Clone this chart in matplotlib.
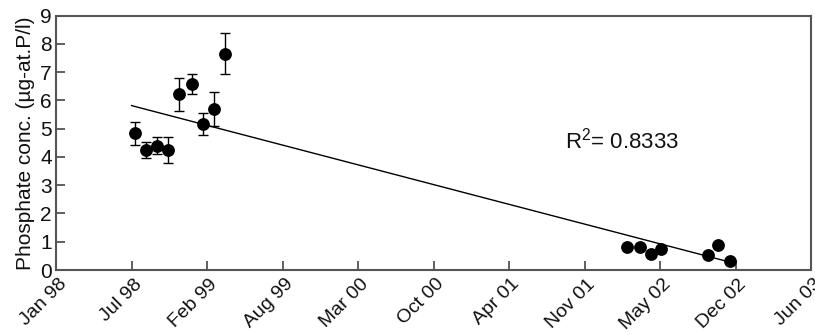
import datetime as dt
import numpy as np
import matplotlib
matplotlib.use("Agg")
import matplotlib.pyplot as plt
import matplotlib.dates as mdates
import matplotlib.transforms as mtransforms

plt.rcParams["font.family"] = ["Liberation Sans", "DejaVu Sans"]
plt.rcParams["mathtext.default"] = "regular"

# sampling dates and phosphate concentrations (mean, std)
dates = ["1998-07-29", "1998-08-28", "1998-09-26", "1998-10-26", "1998-11-25",
         "1998-12-28", "1999-01-27", "1999-02-25", "1999-03-27",
         "2002-02-26", "2002-04-02", "2002-05-02", "2002-05-28",
         "2002-09-30", "2002-10-27", "2002-11-29"]
conc = [4.83, 4.25, 4.4, 4.25, 6.22, 6.58, 5.16, 5.7, 7.65,
        0.8, 0.82, 0.56, 0.74, 0.53, 0.9, 0.33]
err = [0.4, 0.28, 0.3, 0.47, 0.58, 0.34, 0.39, 0.6, 0.73,
       0, 0, 0, 0, 0, 0, 0]

tick_labels = ["Jan 98", "Jul 98", "Feb 99", "Aug 99", "Mar 00", "Oct 00",
               "Apr 01", "Nov 01", "May 02", "Dec 02", "Jun 03"]
axis_start = "1998-01-01"
tick_step = 200.7  # days between major ticks

x = mdates.date2num([dt.date.fromisoformat(d) for d in dates])
x0 = mdates.date2num(dt.date.fromisoformat(axis_start))
ticks = x0 + tick_step * np.arange(len(tick_labels))

fig = plt.figure(figsize=(8.15, 3.35), dpi=100)
ax = fig.add_axes([56 / 815, 1 - 270 / 335, 755 / 815, 254.5 / 335])

# linear trend over all samples
slope, icpt = np.polyfit(x, conc, 1)
xl = np.array([x.min() - 8, x.max()])
ax.plot(xl, slope * xl + icpt, color="black", lw=1.0, zorder=2)

mask = np.array(err) > 0
ax.errorbar(x[mask], np.array(conc)[mask], yerr=np.array(err)[mask], fmt="none",
            ecolor="black", elinewidth=1.0, capsize=3.8, capthick=1.0, zorder=3)
ax.plot(x, conc, "o", color="black", ms=8.2, zorder=4)

ax.text(x0 + 1353, 4.31, r"R$^{2}$= 0.8333", fontsize=16, va="baseline",
        ha="left", color="#111111")

ax.set_xlim(ticks[0], ticks[-1])
ax.set_ylim(0, 9)
ax.set_xticks(ticks)
ax.set_xticklabels(tick_labels, rotation=45, ha="right", rotation_mode="anchor",
                   fontsize=14)
ax.set_yticks(range(10))
ax.tick_params(axis="both", direction="in", length=6.5, width=1.2,
               color="#444444", labelcolor="#111111")
ax.tick_params(axis="y", pad=3, labelsize=15)
ax.tick_params(axis="x", pad=4)

# nudge the slanted date labels slightly right of their ticks
shift = mtransforms.ScaledTranslation(2 / 100, 0, fig.dpi_scale_trans)
for lbl in ax.get_xticklabels():
    lbl.set_transform(lbl.get_transform() + shift)

for s in ax.spines.values():
    s.set_color("#555555")
    s.set_linewidth(1.5)
ax.set_ylabel("Phosphate conc. (µg-at.P/l)", fontsize=15, color="#111111",
              labelpad=4)

fig.savefig("out.png", dpi=100)
